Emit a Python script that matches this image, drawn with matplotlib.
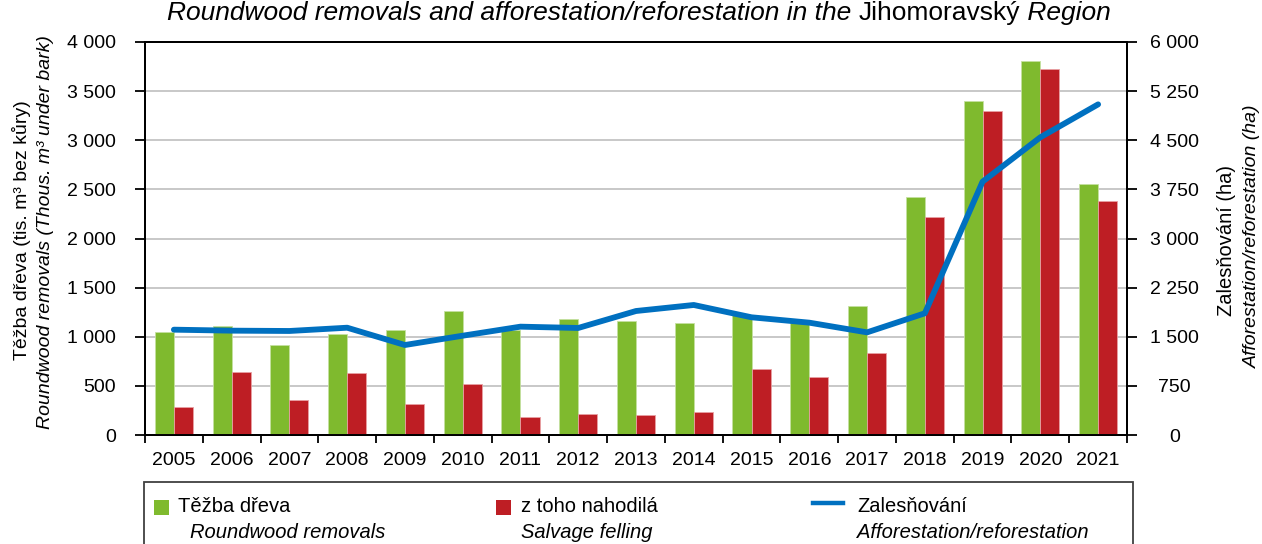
import numpy as np
import matplotlib.pyplot as plt
from matplotlib.patches import Rectangle
from matplotlib.lines import Line2D

plt.rcParams['font.family'] = ['Liberation Sans', 'DejaVu Sans']

years = ['2005', '2006', '2007', '2008', '2009', '2010', '2011', '2012', '2013',
         '2014', '2015', '2016', '2017', '2018', '2019', '2020', '2021']
removals = [1045, 1109, 916, 1031, 1065, 1262, 1069, 1177, 1164,
            1140, 1220, 1140, 1316, 2419, 3396, 3803, 2555]
salvage = [288, 638, 356, 628, 315, 516, 180, 217, 203,
           231, 675, 594, 838, 2222, 3298, 3729, 2382]
afforestation = [1608, 1593, 1588, 1638, 1374, 1516, 1654, 1634, 1893,
                 1985, 1797, 1715, 1567, 1858, 3868, 4545, 5048]

green = '#7fba2e'
red = '#be1e24'
blue = '#0070c0'

W, H = 1262, 544
fig = plt.figure(figsize=(W / 100, H / 100), dpi=100)
ax = fig.add_axes([145 / W, 1 - 435 / H, (1127 - 145) / W, (435 - 42) / H])
ax2 = ax.twinx()

x = np.arange(len(years))
bw = 0.33
ax.bar(x - bw / 2, removals, bw, color=green, edgecolor='#c5e0a0', linewidth=0.6, zorder=3)
ax.bar(x + bw / 2, salvage, bw, color=red, edgecolor='#e8a0a3', linewidth=0.6, zorder=3)
ax2.plot(x, afforestation, color=blue, linewidth=4.2, solid_capstyle='round', zorder=4)

ax.set_xlim(-0.5, len(years) - 0.5)
ax.set_ylim(0, 4000)
ax2.set_ylim(0, 6000)

fmt = lambda v: f'{int(v):,}'.replace(',', ' ')
lt = np.arange(0, 4001, 500)
ax.set_yticks(lt)
ax.set_yticklabels([fmt(v) for v in lt])
rt = np.arange(0, 6001, 750)
ax2.set_yticks(rt)
ax2.set_yticklabels([fmt(v) for v in rt], ha='center')

ax.set_xticks(np.arange(-0.5, len(years), 1))
ax.set_xticklabels([])
ax.set_xticks(x, minor=True)
ax.set_xticklabels(years, minor=True)
ax.tick_params(axis='x', which='major', length=6, width=1.3, direction='out')
ax.tick_params(axis='x', which='minor', length=0, labelsize=14, pad=12)
ax.tick_params(axis='y', length=7, width=1.3, direction='out', labelsize=14, pad=14)
ax2.tick_params(axis='y', length=7, width=1.3, direction='out', labelsize=14, pad=27)

ax.yaxis.grid(True, color='#c8c8c8', linewidth=1.4)
ax.set_axisbelow(True)
for a in (ax, ax2):
    for s in a.spines.values():
        s.set_linewidth(1.4)
        s.set_color('black')

# axis titles
fig.text(22 / W, 1 - 230 / H, 'Těžba dřeva (tis. m³ bez kůry)', rotation=90,
         ha='center', va='center', fontsize=14)
fig.text(46 / W, 1 - 232 / H, 'Roundwood removals (Thous. m³ under bark)', rotation=90,
         ha='center', va='center', fontsize=14, style='italic')
fig.text(1226 / W, 1 - 241 / H, 'Zalesňování (ha)', rotation=90,
         ha='center', va='center', fontsize=14.5)
fig.text(1252 / W, 1 - 236 / H, 'Afforestation/reforestation (ha)', rotation=90,
         ha='center', va='center', fontsize=14, style='italic')

# title: italic with regular region name
t1 = fig.text(167 / W, 1 - 13 / H, 'Roundwood removals and afforestation/reforestation in the ',
              fontsize=19, style='italic', va='center')
t2 = ax.annotate('Jihomoravský', xy=(1, 0), xycoords=t1, va='bottom', fontsize=19)
t3 = ax.annotate(' Region', xy=(1, 0), xycoords=t2, va='bottom', fontsize=19, style='italic')

# legend box
fig.patches.append(Rectangle((144 / W, -0.05), (1133 - 144) / W, 0.05 + 1 - 482 / H,
                             transform=fig.transFigure, facecolor='white',
                             edgecolor='#404040', linewidth=1.3))
entries = [(154, green, 'Těžba dřeva', 'Roundwood removals', 'bar', 178, 190),
           (496, red, 'z toho nahodilá', 'Salvage felling', 'bar', 521, 521),
           (813, blue, 'Zalesňování', 'Afforestation/reforestation', 'line', 857, 857)]
for lx, col, cz, en, kind, tx1, tx2 in entries:
    if kind == 'bar':
        fig.patches.append(Rectangle((lx / W, 1 - 515 / H), 15 / W, 15 / H,
                                     transform=fig.transFigure, facecolor=col))
    else:
        fig.lines.append(Line2D([lx / W, (lx + 30) / W], [1 - 503 / H, 1 - 503 / H],
                                transform=fig.transFigure, color=col, linewidth=3.2))
    fig.text(tx1 / W, 1 - 506 / H, cz, fontsize=14.5, va='center')
    fig.text(tx2 / W, 1 - 533 / H, en, fontsize=14.5, va='center', style='italic')

fig.savefig('out.png', dpi=100)
